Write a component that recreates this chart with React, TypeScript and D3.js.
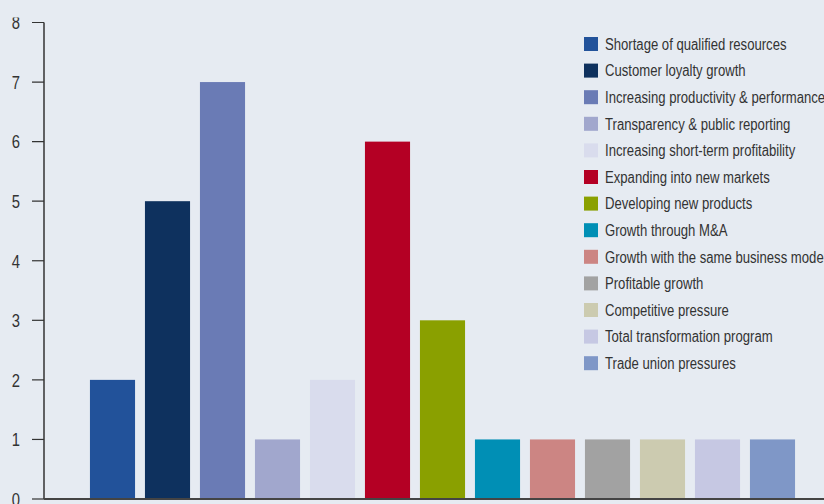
import React from "react";
import * as d3 from "d3";

const categories = [
  "Shortage of qualified resources",
  "Customer loyalty growth",
  "Increasing productivity & performance",
  "Transparency & public reporting",
  "Increasing short-term profitability",
  "Expanding into new markets",
  "Developing new products",
  "Growth through M&A",
  "Growth with the same business model",
  "Profitable growth",
  "Competitive pressure",
  "Total transformation program",
  "Trade union pressures",
];
const values = [2, 5, 7, 1, 2, 6, 3, 1, 1, 1, 1, 1, 1];
const colors = [
  "#22529a", "#0e315e", "#6a7bb5", "#a1a7cd", "#d9dced", "#b40024", "#8aa000",
  "#008fb5", "#cc8583", "#a2a2a2", "#cccbb0", "#c6c8e3", "#7f97c7",
];
const yTicks = [0, 1, 2, 3, 4, 5, 6, 7, 8];

const W = 824;
const H = 504;
const FONT = "'Liberation Sans', Arial, sans-serif";
const SX = 0.82;

export default function App() {
  const y = d3.scaleLinear().domain([0, 8]).range([499, 22.5]);
  const x = d3.scaleBand<string>().domain(categories).range([85, 800]).paddingInner(0.18).paddingOuter(0.09);
  const axisX = 44;
  return (
    <svg width={W} height={H} style={{ position: "fixed", left: 0, top: 0, background: "#e6ebf2" }}>
      <defs>
        <clipPath id="plotclip">
          <rect x={0} y={17.5} width={W} height={H} />
        </clipPath>
      </defs>
      <rect x={0} y={0} width={W} height={H} fill="#e6ebf2" />
      {categories.map((c, i) => (
        <rect key={c} x={x(c)} y={y(values[i])} width={x.bandwidth()} height={y(0) - y(values[i])} fill={colors[i]} />
      ))}
      <line x1={axisX} x2={axisX} y1={y(8)} y2={y(0)} stroke="#333" strokeWidth={1.5} />
      <line x1={axisX} x2={W} y1={y(0)} y2={y(0)} stroke="#444" strokeWidth={2} />
      <g clipPath="url(#plotclip)">
        {yTicks.map((t) => (
          <g key={t}>
            <line x1={32} x2={axisX} y1={y(t)} y2={y(t)} stroke="#333" strokeWidth={1.2} />
            <text transform={`translate(20,${y(t)}) scale(0.78,1)`} dy="0.36em" textAnchor="end" fontFamily={FONT} fontSize={19} fill="#333">{t}</text>
          </g>
        ))}
      </g>
      {categories.map((c, i) => {
        const ly = 44 + i * 26.6;
        return (
          <g key={"l" + c}>
            <rect x={584} y={ly - 7} width={14} height={14} fill={colors[i]} />
            <text transform={`translate(605,${ly}) scale(${SX},1)`} dy="0.36em" fontFamily={FONT} fontSize={16} fill="#333">{c}</text>
          </g>
        );
      })}
    </svg>
  );
}
